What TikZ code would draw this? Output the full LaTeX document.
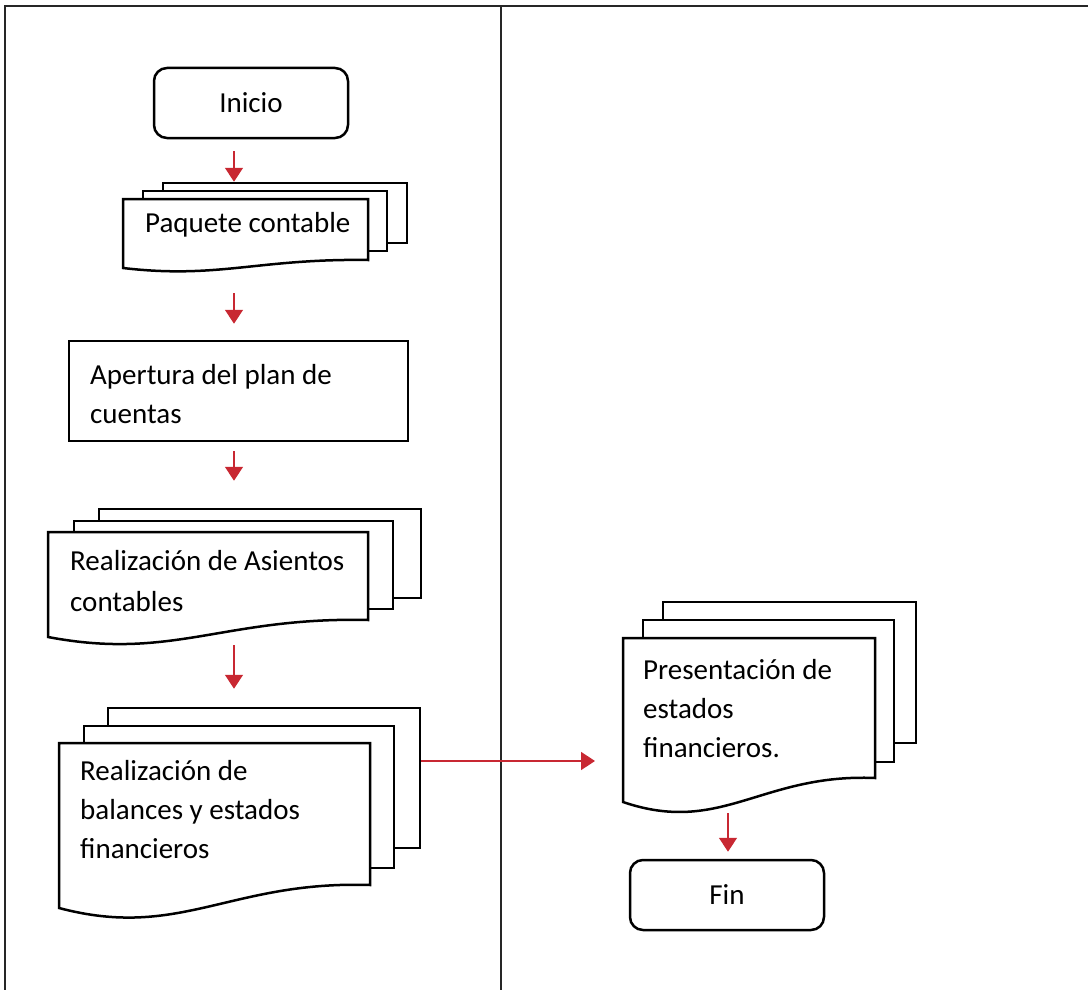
\documentclass[tikz,border=0pt]{standalone}
\usepackage{fontspec}
\setmainfont{Carlito}
\usetikzlibrary{arrows.meta,fit}
\definecolor{arrred}{RGB}{200,40,50}
\tikzset{
  frameline/.style={line width=1.8pt, draw=black!85},
  box/.style={line width=2.5pt, draw=black, fill=white},
  sheet/.style={box, rectangle, inner sep=0pt},
  term/.style={box, rectangle, rounded corners=13pt, inner sep=0pt,
    minimum width=194pt, minimum height=70pt, font=\fontsize{29}{39}\selectfont},
  lbl/.style={inner sep=0pt, anchor=west, align=left, font=\fontsize{29}{39}\selectfont},
  arr/.style={draw=arrred, line width=1.6pt, -{Triangle[length=14pt,width=18pt]}, arrred}
}
\newcommand\frontdoc[6]{%
  \coordinate (#1-nw) at (#2,#4);
  \coordinate (#1-sw) at (#2,#6);
  \draw[box] (#2,#4) -- (#3,#4) -- (#3,#5)
    .. controls ({#2+0.55*(#3-#2)},{#5-0.2*(#6-#5)}) and ({#2+0.39*(#3-#2)},{#6+1.4*(#6-#5)}) .. (#2,#6) -- cycle;}
\begin{document}
\begin{tikzpicture}[x=1pt,y=-1pt]
\useasboundingbox (0,0) rectangle (1088,990);
% frame
\coordinate (fTL) at (5,6);
\coordinate (fBL) at (5,990);
\coordinate (fTR) at (1088,6);
\coordinate (dT) at (501,6);
\coordinate (dB) at (501,990);
\draw[frameline] (fBL) -- (fTL) -- (fTR);
\draw[frameline] (dT) -- (dB);
% columns
\coordinate (colA) at (234,0);
\coordinate (colB) at (728,0);
\coordinate (hrow) at (0,761);
% Inicio
\node[term] (inicio) at (251,103) {Inicio};
% Paquete contable
\node[sheet, fit={(163,183) (407,243)}] (paqback) {};
\node[sheet, fit={(143,191) (387,251)}] (paqmid) {};
\frontdoc{paqf}{123}{368}{199}{260}{268}
\node[lbl] (paq) at (145,225) {Paquete contable};
% Apertura
\node[sheet, fit={(69,341) (408,441)}] (apebox) {};
\node[lbl] (ape) at (90,394) {Apertura del plan de\\cuentas};
% Asientos
\node[sheet, fit={(99,509) (421,598)}] (asiback) {};
\node[sheet, fit={(74,521) (393,609)}] (asimid) {};
\frontdoc{asif}{48}{368}{532}{620}{637}
\node[lbl, font=\fontsize{29}{41}\selectfont] (asi) at (70,581) {Realización de Asientos\\contables};
% Balances
\node[sheet, fit={(108,708) (420,848)}] (balback) {};
\node[sheet, fit={(84,726) (394,868)}] (balmid) {};
\frontdoc{balf}{59}{370}{743}{885}{908}
\node[lbl] (bal) at (80,810) {Realización de\\balances y estados\\financieros};
% Presentacion
\node[sheet, fit={(663,602) (916,743)}] (presback) {};
\node[sheet, fit={(643,620) (894,762)}] (presmid) {};
\frontdoc{presf}{623}{875}{638}{778}{802}
\node[lbl] (pres) at (643,709) {Presentación de\\estados\\financieros.};
% Fin
\node[term] (fin) at (727,895) {Fin};
% connectors
\draw[arr, shorten <=12pt] (colA |- inicio.south) -- (colA |- paqback.north);
\draw[arr, shorten <=25pt, shorten >=16pt] (colA |- paqf-sw) -- (colA |- apebox.north);
\draw[arr, shorten <=9pt, shorten >=27pt] (colA |- apebox.south) -- (colA |- asiback.north);
\draw[arr, shorten <=8pt, shorten >=18pt] (colA |- asif-sw) -- (colA |- balback.north);
\draw[arr, shorten >=28pt] (balback.east |- hrow) -- (presf-nw |- hrow);
\draw[arr, shorten <=11pt, shorten >=7pt] (colB |- presf-sw) -- (colB |- fin.north);
\end{tikzpicture}
\end{document}
